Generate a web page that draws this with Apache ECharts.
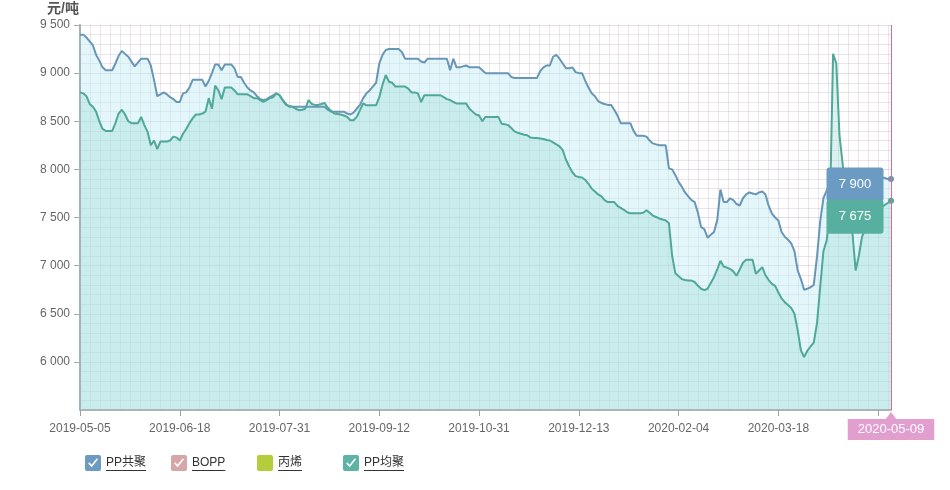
<!DOCTYPE html>
<html>
<head>
<meta charset="utf-8">
<script src="https://cdn.jsdelivr.net/npm/echarts@6/dist/echarts.min.js"></script>
<style>
html,body{margin:0;padding:0;background:#fff;}
#chart{width:950px;height:490px;}
</style>
</head>
<body>
<div id="chart"></div>
<script>
// ---- categories: Chinese trading (working) days ----
const firstDay = '2019-05-05';
const lastDay = '2020-05-09';
const holidays = ['2019-06-07','2019-09-13','2019-10-01','2019-10-02','2019-10-03','2019-10-04','2019-10-07',
  '2020-01-01','2020-01-24','2020-01-27','2020-01-28','2020-01-29','2020-01-30','2020-01-31',
  '2020-04-06','2020-05-01','2020-05-04','2020-05-05'];
const weekendWorkdays = ['2019-05-05','2019-09-29','2019-10-12','2020-01-19','2020-04-26','2020-05-09'];

function buildDates() {
  const out = [];
  const p = s => s.split('-').map(Number);
  const a = p(firstDay), b = p(lastDay);
  let t = Date.UTC(a[0], a[1]-1, a[2]);
  const end = Date.UTC(b[0], b[1]-1, b[2]);
  while (t <= end) {
    const d = new Date(t);
    const s = d.toISOString().slice(0,10);
    const wd = d.getUTCDay();
    if ((wd >= 1 && wd <= 5 && holidays.indexOf(s) < 0) || weekendWorkdays.indexOf(s) >= 0) out.push(s);
    t += 86400000;
  }
  return out;
}
const dates = buildDates();

// ---- series values (元/吨) ----
const ppCopolymer = [
  9400,9400,9370,9330,9290,9190,9130,9060,9030,9030,
  9030,9100,9180,9230,9200,9170,9120,9070,9110,9150,
  9150,9150,9080,8930,8760,8780,8800,8780,8750,8730,
  8700,8700,8790,8800,8850,8930,8930,8930,8930,8860,
  8920,9000,9090,9090,9030,9090,9090,9090,9050,8960,
  8960,8900,8850,8820,8800,8760,8730,8720,8730,8750,
  8770,8790,8770,8720,8680,8650,8650,8650,8650,8650,
  8650,8650,8650,8650,8650,8650,8650,8620,8600,8600,
  8600,8600,8600,8580,8570,8590,8630,8670,8740,8790,
  8820,8860,8900,9100,9190,9240,9250,9250,9250,9250,
  9220,9150,9150,9150,9150,9150,9120,9110,9150,9150,
  9150,9150,9150,9150,9150,9030,9150,9060,9060,9070,
  9080,9060,9060,9060,9060,9030,9000,9000,9000,9000,
  9000,9000,9000,9000,8960,8950,8950,8950,8950,8950,
  8950,8950,8950,9020,9060,9080,9080,9170,9190,9150,
  9100,9050,9050,9060,9010,9000,9000,8920,8850,8790,
  8760,8710,8690,8680,8670,8670,8620,8560,8480,8480,
  8480,8480,8400,8350,8350,8350,8340,8300,8270,8260,
  8250,8250,8250,8010,8000,7940,7870,7820,7760,7720,
  7680,7660,7550,7400,7380,7290,7320,7350,7470,7790,
  7660,7660,7700,7680,7640,7625,7700,7740,7760,7750,
  7740,7760,7770,7740,7620,7540,7500,7470,7350,7300,
  7270,7230,7150,6950,6860,6750,6760,6775,6800,7090,
  7460,7700,7780,7850,7900,7950,8000,8000,7980,7950,
  7950,7950,7920,7920,7950,7950,7950,7930,7920,7920,
  7910,7900,7900
];
const ppHomopolymer = [
  8800,8790,8760,8680,8650,8600,8500,8420,8400,8400,
  8400,8480,8580,8620,8570,8500,8480,8480,8480,8545,
  8460,8390,8250,8300,8210,8290,8290,8290,8300,8340,
  8330,8300,8370,8420,8480,8530,8570,8570,8580,8600,
  8740,8630,8870,8820,8730,8850,8850,8850,8820,8780,
  8780,8780,8780,8760,8740,8740,8720,8700,8720,8740,
  8750,8790,8770,8720,8670,8660,8650,8630,8615,8620,
  8630,8720,8680,8670,8670,8680,8690,8640,8610,8580,
  8575,8570,8560,8545,8510,8510,8545,8615,8685,8665,
  8665,8665,8665,8750,8880,8980,8910,8900,8860,8860,
  8860,8860,8840,8800,8800,8790,8700,8770,8770,8770,
  8770,8770,8770,8750,8730,8720,8700,8685,8685,8685,
  8685,8630,8600,8570,8560,8500,8545,8545,8545,8545,
  8545,8475,8470,8460,8430,8395,8380,8370,8360,8355,
  8330,8325,8325,8320,8315,8305,8300,8280,8260,8240,
  8200,8100,8030,7970,7930,7920,7915,7890,7850,7800,
  7770,7740,7720,7680,7660,7660,7660,7620,7600,7580,
  7555,7545,7545,7545,7545,7550,7575,7550,7520,7505,
  7490,7480,7470,7440,7100,6920,6890,6860,6850,6845,
  6845,6830,6790,6760,6745,6760,6820,6880,6960,7050,
  6990,6980,6965,6940,6895,6960,7030,7060,7060,7060,
  6915,6950,6985,6900,6850,6810,6790,6720,6660,6620,
  6590,6560,6500,6330,6120,6050,6115,6160,6200,6400,
  6780,7150,7260,7550,9200,9100,8350,8050,7750,7550,
  7350,6950,7100,7300,7380,7450,7500,7520,7560,7600,
  7630,7650,7675
];
const bopp = [];
const propylene = [];

const seriesNames = ['PP共聚','BOPP','丙烯','PP均聚'];
const seriesColors = ['#6b9bc1','#d6a7a7','#b3cd3c','#5cb3a6'];
const checked = [true, true, false, true];
const yMin = 5500, yMax = 9500, yStep = 500;
const unitLabel = '元/吨';

const FONT = '"Liberation Sans", Arial, "Noto Sans CJK SC", sans-serif';
const fmt = v => String(v).replace(/\B(?=(\d{3})+(?!\d))/g, ' ');

const boxPath = 'path://M2,0L14,0Q16,0 16,2L16,14Q16,16 14,16L2,16Q0,16 0,14L0,2Q0,0 2,0Z';
const checkPath = boxPath + 'M3.2,8.4L6.7,12.2L13,4.2L11.8,3.2L6.6,9.7L4.3,7.3Z';
const tipPath = 'path://M3,0L54,0Q57,0 57,3L57,31Q57,34 54,34L3,34Q0,34 0,31L0,3Q0,0 3,0Z';

const last = dates.length - 1;
const gridColor = 'rgba(140,100,130,0.22)';
const minorGridColor = 'rgba(140,100,130,0.17)';

const chart = echarts.init(document.getElementById('chart'), null, {renderer: 'canvas'});

const measure = document.createElement('canvas').getContext('2d');
measure.font = '12px ' + FONT;

const legendLeft = 85, legendStep = 86, legendTop = 455;

const option = {
  animation: false,
  backgroundColor: '#fff',
  textStyle: {fontFamily: FONT},
  title: {
    text: unitLabel, left: 47, top: 2, padding: 0,
    textStyle: {fontSize: 14, fontWeight: 'bold', color: '#555', fontFamily: FONT}
  },
  grid: {left: 80, right: 59, top: 25, bottom: 80, containLabel: false},
  legend: seriesNames.map((n, k) => ({
    data: [{name: n, icon: checked[k] ? checkPath : boxPath}],
    left: legendLeft + legendStep * k, top: legendTop,
    itemWidth: 16, itemHeight: 16, padding: 0,
    itemStyle: {borderWidth: 0},
    textStyle: {color: '#333', fontSize: 12, fontFamily: FONT},
    selectedMode: false
  })),
  xAxis: [{
    type: 'category',
    data: dates,
    boundaryGap: false,
    z: 3,
    axisLine: {show: true, lineStyle: {color: '#a9b6b8', width: 2}},
    axisTick: {show: true, interval: 30, length: 6, lineStyle: {color: '#a0a0a0'}},
    axisLabel: {interval: 30, color: '#666', fontSize: 12, margin: 13, fontFamily: FONT},
    splitLine: {show: false},
    axisPointer: {
      show: true, type: 'line', status: 'show', value: last, snap: true, triggerTooltip: false, z: 60,
      lineStyle: {color: '#e5668f', width: 1, type: 'solid'},
      label: {show: true, backgroundColor: '#e29ecf', color: '#fff', fontSize: 13, fontFamily: FONT,
        padding: [4, 10, 4, 10], margin: 9, borderRadius: 0}
    }
  }, {
    type: 'value',
    min: 0, max: last, interval: 3.1,
    position: 'bottom',
    z: 3,
    axisLine: {show: false}, axisTick: {show: false}, axisLabel: {show: false},
    splitLine: {show: true, lineStyle: {color: minorGridColor, width: 1}}
  }],
  yAxis: {
    type: 'value',
    min: yMin, max: yMax, interval: yStep,
    z: 3,
    axisLine: {show: true, lineStyle: {color: '#a4b3b7', width: 2}},
    axisTick: {show: true, length: 6, lineStyle: {color: '#aaa'}},
    axisLabel: {color: '#666', fontSize: 12, margin: 10, showMinLabel: false, fontFamily: FONT,
      formatter: v => fmt(v)},
    splitLine: {show: true, lineStyle: {color: gridColor, width: 1}},
    minorTick: {show: false, splitNumber: 5},
    minorSplitLine: {show: true, lineStyle: {color: minorGridColor, width: 1}}
  },
  axisPointer: {triggerOn: 'none'},
  graphic: seriesNames.map((n, k) => {
    const x = legendLeft + legendStep * k + 21;
    return {
      type: 'line', z: 10,
      shape: {x1: x, y1: 470.5, x2: x + measure.measureText(n).width, y2: 470.5},
      style: {stroke: '#333', lineWidth: 1}
    };
  }),
  series: [
    {
      name: seriesNames[0], type: 'line', data: ppCopolymer,
      color: seriesColors[0], showSymbol: false, symbol: 'none',
      lineStyle: {color: '#6896b6', width: 2},
      areaStyle: {color: 'rgba(196,238,246,0.68)', origin: 'start'},
      markPoint: {
        silent: true,
        data: [
          {coord: [dates[last], ppCopolymer[last]], value: ppCopolymer[last], symbol: tipPath,
            symbolSize: [57, 34], symbolOffset: [-36, 5.5], itemStyle: {color: '#6b9bc2'},
            label: {show: true, position: 'inside', color: '#fff', fontSize: 13, fontFamily: FONT,
              formatter: p => fmt(p.value)}},
          {coord: [dates[last], ppCopolymer[last]], value: ppCopolymer[last], symbol: 'circle',
            symbolSize: 6, itemStyle: {color: '#6896b6'}, label: {show: false}}
        ]
      }
    },
    {name: seriesNames[1], type: 'line', data: bopp, color: seriesColors[1], showSymbol: false},
    {name: seriesNames[2], type: 'line', data: propylene, color: seriesColors[2], showSymbol: false},
    {
      name: seriesNames[3], type: 'line', data: ppHomopolymer,
      color: seriesColors[3], showSymbol: false, symbol: 'none',
      lineStyle: {color: '#4fa898', width: 2},
      areaStyle: {color: 'rgba(140,210,204,0.42)', origin: 'start'},
      markPoint: {
        silent: true,
        data: [
          {coord: [dates[last], ppHomopolymer[last]], value: ppHomopolymer[last], symbol: tipPath,
            symbolSize: [57, 34], symbolOffset: [-36, 16], itemStyle: {color: '#57b09f'},
            label: {show: true, position: 'inside', color: '#fff', fontSize: 13, fontFamily: FONT,
              formatter: p => fmt(p.value)}},
          {coord: [dates[last], ppHomopolymer[last]], value: ppHomopolymer[last], symbol: 'circle',
            symbolSize: 6, itemStyle: {color: '#4fa898'}, label: {show: false}},
          {coord: [dates[last], yMin], value: yMin, symbol: 'triangle', symbolSize: [12, 8],
            symbolOffset: [0, 6], itemStyle: {color: '#e29ecf'}, label: {show: false}}
        ]
      }
    }
  ]
};

chart.setOption(option);
</script>
</body>
</html>
